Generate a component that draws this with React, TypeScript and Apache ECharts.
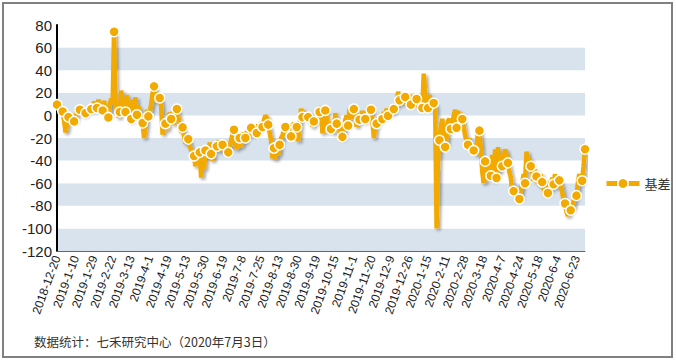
import React, { useEffect, useRef } from "react";
import * as echarts from "echarts";

// Trading-day calendar (categories)
const START_DATE = "2018-12-20";
const END_DATE = "2020-07-03";
const HOLIDAYS = [
  "2018-12-31", "2019-1-1",
  "2019-2-4", "2019-2-5", "2019-2-6", "2019-2-7", "2019-2-8",
  "2019-4-5",
  "2019-5-1", "2019-5-2", "2019-5-3",
  "2019-6-7",
  "2019-9-13",
  "2019-10-1", "2019-10-2", "2019-10-3", "2019-10-4", "2019-10-7",
  "2020-1-1",
  "2020-1-24", "2020-1-27", "2020-1-28", "2020-1-29", "2020-1-30", "2020-1-31",
  "2020-4-6",
  "2020-5-1", "2020-5-4", "2020-5-5",
  "2020-6-25", "2020-6-26",
];

const SERIES_NAME = "基差";

// Basis values, one per trading day
const BASIS = [
  9.5, 8, 5, 2, 3.5, -5, -15, -8, -1.5, 2, -3, -4,
  -5.3, -2, 3, 4, 5, 6, 3, 0, 2, 4, 7, 6,
  5.6, 8, 12, 10, 6.5, 14, 6, 10, 4.4, 13, -3, 2,
  -1.8, 10, 15, 10, 74, 5, 12, -2, 3, 22, 8, 15,
  3, 18, 5, -5, -3.2, 14, 2, 16, 0.6, 8, 2, -4,
  -6.7, -20, -10, 5, -0.9, 3, 10, 20, 25.7, 20, 12, 18,
  15.4, 8, -17, -5, -7.3, -13, 0, 2, -3.2, 3, -8, 4,
  5.7, -2, -8, -15, -10.6, -18, -25, -17, -21, -28, -30, -38,
  -36, -45, -30, -40, -32.7, -55, -40, -48, -31, -28, -38, -24,
  -34, -40, -25, -30, -27.4, -22, -32, -24, -26, -22, -28, -30,
  -32.7, -28, -22, -16, -12.7, -25, -30, -18, -20, -28, -15, -24,
  -20, -14, -18, -10, -11, -18, -10, -14, -15.6, -8, -12, -6,
  -10.3, -4, 0, -2, -8.2, -15, -22, -38, -29, -39, -30, -35,
  -26, -20, -18, -12, -10.3, -15, -8, -12, -18.6, -16, -6, -14,
  -10.3, -23, -8, 6, -1.5, 4, -2, 2, -1.5, -6, 2, -10,
  -5.3, 0, -6, 6, 3, 8, -16, 0, 4.4, -2, -15, -8,
  -12, -5, -16, 2, -7.3, -12, -10, -20, -19, -14, -4, 0,
  -9, 6, -3, 2, 5.6, 0, -10, 1, -3.8, -5, 4, -6,
  -3.2, 2, 8, 3, 5, -4, -20, -10, -7.3, -2, -5, 1,
  -3.2, 3, -2, 6, -0.3, 4, 8, 2, 5.6, 10, 8, 21,
  13.3, 18, 10, 14, 16.3, 12, 18, 14, 9.5, 18, 12, 10,
  14.5, 8, 15, 12, 6.5, 37, 20, 10, 6.5, 18, 12, 15,
  11, 8, -100, -40, -22, -10, -3, -18, -28, -20, -5, -3,
  -12, -8, 0, 5, -11, 4, -5, 2, -3.2, -10, -18, -22,
  -26, -20, -32, -28, -31, -25, -35, -10, -13.5, -30, -50, -60,
  -40.7, -58, -45, -50, -53.4, -35, -58, -30, -55.4, -28, -50, -35,
  -45, -38, -30, -35, -42, -50, -55, -68, -67, -62, -70, -73,
  -74, -65, -60, -52, -60, -32, -40, -38, -45, -50, -58, -48,
  -54, -56, -62, -52, -59, -65, -70, -62, -68.7, -58, -66, -55,
  -61, -52, -64, -60, -57.5, -62, -68, -75, -78, -85, -89, -80,
  -84, -82, -76, -72, -71, -60, -52, -60, -57.8, -45, -30,
];

const Y_MIN = -120;
const Y_MAX = 80;
const Y_STEP = 20;
const LABEL_EVERY = 13;
const MARKER_EVERY = 4;
const FOOTNOTE = "数据统计：七禾研究中心（2020年7月3日）";

function buildTradingDays(): string[] {
  const hol = new Set(HOLIDAYS);
  const out: string[] = [];
  const [sy, sm, sd] = START_DATE.split("-").map(Number);
  const [ey, em, ed] = END_DATE.split("-").map(Number);
  const d = new Date(Date.UTC(sy, sm - 1, sd));
  const end = Date.UTC(ey, em - 1, ed);
  while (d.getTime() <= end) {
    const wd = d.getUTCDay();
    const key = `${d.getUTCFullYear()}-${d.getUTCMonth() + 1}-${d.getUTCDate()}`;
    if (wd !== 0 && wd !== 6 && !hol.has(key)) out.push(key);
    d.setUTCDate(d.getUTCDate() + 1);
  }
  return out;
}

const ORANGE = "#F2A900";

export default function App() {
  const ref = useRef<HTMLDivElement>(null);
  useEffect(() => {
    if (!ref.current) return;
    const chart = echarts.init(ref.current, null, { renderer: "svg" });
    const dates = buildTradingDays();
    const last = BASIS.length - 1;
    const data = BASIS.map((v, i) =>
      i % MARKER_EVERY === 0 || i === last ? v : { value: v, symbol: "none" }
    );
    chart.setOption({
      animation: false,
      backgroundColor: "#ffffff",
      grid: { left: 57, right: 91, top: 25, bottom: 109, containLabel: false },
      legend: {
        left: 599,
        top: 172,
        itemWidth: 33,
        itemHeight: 13,
        itemGap: 5,
        lineStyle: { width: 5, color: ORANGE },
        itemStyle: { color: ORANGE, borderColor: "#ffffff", borderWidth: 1.5 },
        textStyle: { color: "#333", fontSize: 13, fontFamily: "Noto Sans CJK SC" },
        data: [SERIES_NAME],
      },
      xAxis: [
        {
          type: "category",
          data: dates,
          boundaryGap: false,
          axisLine: { show: false },
          axisTick: { show: false },
          axisLabel: {
            interval: LABEL_EVERY - 1,
            rotate: 70,
            margin: 5,
            fontSize: 12,
            color: "#1a1a1a",
            fontFamily: "Liberation Sans, Arial, sans-serif",
          },
          splitLine: { show: false },
        },
        {
          type: "category",
          data: dates,
          boundaryGap: false,
          position: "bottom",
          axisLine: { show: true, onZero: true, lineStyle: { color: "#666", width: 1 } },
          axisTick: { show: false },
          axisLabel: { show: false },
          splitLine: { show: false },
        },
      ],
      yAxis: {
        type: "value",
        min: Y_MIN,
        max: Y_MAX,
        interval: Y_STEP,
        axisLine: { show: true, lineStyle: { color: "#000", width: 2 } },
        axisTick: { show: false },
        axisLabel: {
          fontSize: 15,
          color: "#222",
          margin: 5,
          fontFamily: "Liberation Sans, Arial, sans-serif",
        },
        splitLine: { show: false },
        splitArea: { show: true, areaStyle: { color: ["#D8E3EE", "#ffffff"] } },
      },
      series: [
        {
          name: SERIES_NAME,
          type: "line",
          data,
          xAxisIndex: 0,
          showAllSymbol: true,
          symbol: "circle",
          symbolSize: 10,
          lineStyle: {
            color: ORANGE,
            width: 4.5,
            shadowColor: "rgba(0,0,0,0.35)",
            shadowBlur: 3,
            shadowOffsetX: 2,
            shadowOffsetY: 2,
          },
          itemStyle: { color: ORANGE, borderColor: "#ffffff", borderWidth: 1.5 },
          z: 3,
        },
      ],
      graphic: [
        {
          type: "rect",
          shape: { x: 3, y: 3, width: 669, height: 354 },
          style: { fill: "none", stroke: "#808080", lineWidth: 2 },
          silent: true,
        },
        {
          type: "text",
          left: 34,
          top: 335,
          style: {
            text: FOOTNOTE,
            fill: "#333",
            fontSize: 12.5,
            fontFamily: "Noto Sans CJK SC",
          },
        },
      ],
    });
    return () => chart.dispose();
  }, []);
  return (
    <div
      ref={ref}
      style={{ position: "fixed", left: 0, top: 0, width: 676, height: 360 }}
    />
  );
}
